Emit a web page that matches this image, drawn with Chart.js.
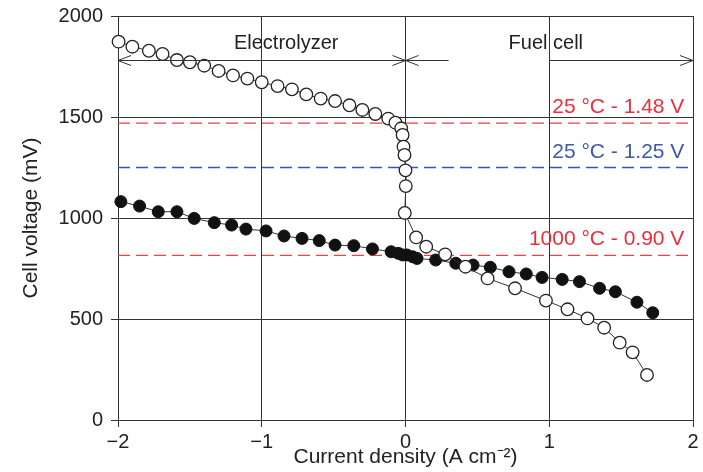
<!DOCTYPE html>
<html>
<head>
<meta charset="utf-8">
<script src="https://cdn.jsdelivr.net/npm/chart.js@4"></script>
<style>
  html, body { margin: 0; padding: 0; background: #fff; }
  #wrap { width: 703px; height: 472px; }
</style>
</head>
<body>
<div id="wrap"><canvas id="mychart"></canvas></div>
<script>
// data
const currentOpen = [-1.996, -1.90, -1.785, -1.69, -1.59, -1.50, -1.40, -1.30, -1.20, -1.10, -1.00, -0.89, -0.79, -0.69, -0.59, -0.49, -0.39, -0.30, -0.21, -0.12, -0.07, -0.03, -0.02, -0.014, -0.007, 0.0, 0.002, -0.005, 0.074, 0.144, 0.276, 0.417, 0.571, 0.762, 0.977, 1.127, 1.266, 1.382, 1.49, 1.58, 1.68];
const voltageOpen = [1873, 1848, 1828, 1812, 1782, 1771, 1754, 1728, 1706, 1690, 1672, 1653, 1637, 1612, 1591, 1579, 1558, 1535, 1515, 1492, 1472, 1444, 1411, 1353, 1312, 1236, 1158, 1025, 904, 858, 820, 759, 701, 652, 591, 548, 503, 457, 383, 335, 223];

const currentFilled = [-1.98, -1.85, -1.72, -1.59, -1.47, -1.33, -1.21, -1.11, -0.97, -0.845, -0.72, -0.60, -0.49, -0.36, -0.23, -0.10, -0.05, -0.02, 0.01, 0.05, 0.08, 0.21, 0.35, 0.47, 0.59, 0.72, 0.84, 0.95, 1.09, 1.21, 1.35, 1.46, 1.61, 1.72];
const voltageFilled = [1081, 1059, 1031, 1031, 998, 977, 965, 945, 936, 911, 899, 888, 866, 863, 847, 833, 825, 817, 817, 808, 800, 792, 776, 767, 756, 734, 723, 706, 696, 685, 652, 635, 583, 531];

// reference voltages (as drawn) and their labels
const refLevels = [1470, 1250, 815];
const refLabels = ['25 \u00B0C - 1.48 V', '25 \u00B0C - 1.25 V', '1000 \u00B0C - 0.90 V'];

const regionLabels = ['Electrolyzer', 'Fuel cell'];
const xTicks = [-2, -1, 0, 1, 2];
const yTicks = [0, 500, 1000, 1500, 2000];

const FONT = '"Liberation Sans", Arial, Helvetica, sans-serif';
const red = '#e8303c';
const blue = '#3f58a8';

function pts(xs, ys) {
  return xs.map((v, i) => ({ x: v, y: ys[i] }));
}

const refColors = ['#e8424c', '#3c56b0', '#e8424c'];
const refSets = refLevels.map((lv, i) => ({
  data: [{ x: -2, y: lv }, { x: 2, y: lv }],
  borderColor: refColors[i],
  borderWidth: 1.3,
  borderDash: [12, 6],
  pointRadius: 0,
  order: 5
}));

// annotations: texts and arrows placed in data units
const annotations = {
  id: 'annotations',
  afterDatasetsDraw(chart) {
    const { ctx, scales: { x, y } } = chart;
    ctx.save();
    ctx.font = '20px ' + FONT;
    ctx.fillStyle = '#222';
    ctx.textAlign = 'center';
    ctx.textBaseline = 'middle';
    ctx.fillText(regionLabels[0], x.getPixelForValue(-0.83), y.getPixelForValue(1866));
    ctx.fillText(regionLabels[1], x.getPixelForValue(0.976), y.getPixelForValue(1866));

    // reference labels
    ctx.font = '21px ' + FONT;
    ctx.textAlign = 'right';
    const labelY = [1548, 1325, 895];
    const labelCol = [red, blue, red];
    refLabels.forEach((t, i) => {
      ctx.fillStyle = labelCol[i];
      ctx.fillText(t, x.getPixelForValue(1.94), y.getPixelForValue(labelY[i]));
    });

    // arrows
    const ay = Math.round(y.getPixelForValue(1782)) + 0.5;
    ctx.strokeStyle = '#333';
    ctx.lineWidth = 1;
    function seg(a, b) {
      ctx.beginPath();
      ctx.moveTo(x.getPixelForValue(a), ay);
      ctx.lineTo(x.getPixelForValue(b), ay);
      ctx.stroke();
    }
    function head(v, dir) {
      const px = x.getPixelForValue(v);
      ctx.beginPath();
      ctx.moveTo(px + dir * 13, ay - 5);
      ctx.lineTo(px, ay);
      ctx.lineTo(px + dir * 13, ay + 5);
      ctx.stroke();
    }
    seg(-2, 0);
    head(-2, 1);
    head(0, -1);
    seg(0, 0.3);
    seg(1.0, 2);
    head(0, 1);
    head(2, -1);
    ctx.restore();
  }
};

const config = {
  type: 'line',
  data: {
    datasets: [
      {
        data: pts(currentOpen, voltageOpen),
        borderColor: '#333',
        borderWidth: 1,
        pointRadius: 6.3,
        pointBackgroundColor: '#fff',
        pointBorderColor: '#222',
        pointBorderWidth: 1.3,
        tension: 0,
        clip: false,
        order: 1
      },
      {
        data: pts(currentFilled, voltageFilled),
        borderColor: '#333',
        borderWidth: 1,
        pointRadius: 6,
        pointBackgroundColor: '#111',
        pointBorderColor: '#111',
        pointBorderWidth: 1,
        tension: 0,
        clip: false,
        order: 2
      },
      ...refSets
    ]
  },
  options: {
    responsive: true,
    maintainAspectRatio: false,
    animation: false,
    layout: { padding: { left: 0, right: 10, top: 16, bottom: 0 } },
    plugins: {
      legend: { display: false },
      tooltip: { enabled: false }
    },
    scales: {
      x: {
        type: 'linear',
        min: -2,
        max: 2,
        afterFit(s) { s.height = 52; s.paddingLeft = 0; s.paddingRight = 0; },
        afterBuildTicks(s) { s.ticks = xTicks.map(v => ({ value: v })); },
        grid: { color: '#333', lineWidth: 1, tickLength: 7, tickColor: '#333' },
        border: { color: '#333', width: 1 },
        ticks: {
          color: '#222',
          font: { family: FONT, size: 20 },
          padding: 3,
          maxRotation: 0,
          callback: v => String(v).replace('-', '\u2212')
        },
        title: {
          display: true,
          text: 'Current density (A cm\u207B\u00B2)',
          color: '#222',
          font: { family: FONT, size: 21 },
          padding: { top: 0, bottom: 2 }
        }
      },
      y: {
        min: 0,
        max: 2000,
        afterFit(s) { s.width = 118; s.paddingTop = 0; s.paddingBottom = 0; },
        afterBuildTicks(s) { s.ticks = yTicks.map(v => ({ value: v })); },
        grid: { color: '#333', lineWidth: 1, tickLength: 7, tickColor: '#333' },
        border: { color: '#333', width: 1 },
        ticks: {
          color: '#222',
          font: { family: FONT, size: 20 },
          padding: 8,
          callback: v => String(v)
        },
        title: {
          display: true,
          text: 'Cell voltage (mV)',
          color: '#222',
          font: { family: FONT, size: 21 },
          padding: { top: 19, bottom: 0 }
        }
      }
    }
  },
  plugins: [annotations]
};

let myChart = new Chart(document.getElementById('mychart'), config);
</script>
</body>
</html>
